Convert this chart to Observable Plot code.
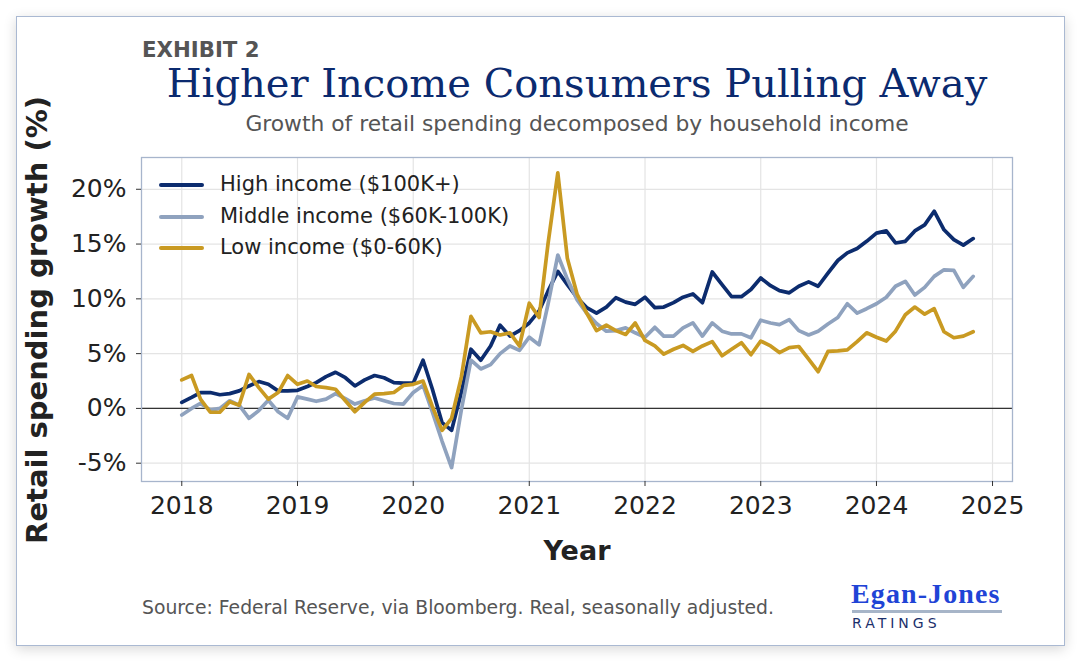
<!DOCTYPE html>
<html>
<head>
<meta charset="utf-8">
<script src="https://cdn.jsdelivr.net/npm/d3@7"></script>
<script src="https://cdn.jsdelivr.net/npm/@observablehq/plot@0.6"></script>
<style>
  html, body { margin: 0; padding: 0; background: #ffffff; }
  body { width: 1080px; height: 661px; position: relative; overflow: hidden; font-family: "DejaVu Sans", sans-serif; }
  .card { position: absolute; left: 16px; top: 16px; width: 1047px; height: 628px; border: 1px solid #aab9d2; background: #fff; box-shadow: 0 3px 12px rgba(0,0,0,0.16); }
  .abs { position: absolute; white-space: nowrap; line-height: 1; }
  #chart { position: absolute; left: 0; top: 0; }
  .legend-row { position: absolute; left: 159px; height: 0; }
  .legend-row .swatch { position: absolute; left: 0; top: -2px; width: 45px; height: 4px; border-radius: 2px; }
  .legend-row .lbl { position: absolute; left: 61px; top: -11px; font-size: 21px; color: #222; line-height: 1; white-space: nowrap; }
</style>
</head>
<body>
<div class="card"></div>
<div id="chart"></div>

<div class="abs" style="left:142px; top:39px; font-size:21.3px; font-weight:bold; color:#555;">EXHIBIT 2</div>
<div class="abs" style="left:577px; top:63px; transform:translateX(-50%); font-family:'DejaVu Serif', serif; font-size:40px; color:#0b2a6f;">Higher Income Consumers Pulling Away</div>
<div class="abs" style="left:577px; top:113px; transform:translateX(-50%); font-size:21.8px; color:#555;">Growth of retail spending decomposed by household income</div>
<div class="abs" style="left:577px; top:537px; transform:translateX(-50%); font-size:27px; font-weight:bold; color:#222;">Year</div>
<div class="abs" style="left:37px; top:320px; transform:translate(-50%,-50%) rotate(-90deg); font-size:29px; font-weight:bold; color:#222;">Retail spending growth (%)</div>
<div class="abs" style="left:142px; top:599px; font-size:18.8px; color:#555;">Source: Federal Reserve, via Bloomberg. Real, seasonally adjusted.</div>

<div class="abs" style="left:851px; top:580px; font-family:'Liberation Serif', serif; font-weight:bold; font-size:28px; letter-spacing:1.1px; color:#1f44d6;">Egan-Jones</div>
<div class="abs" style="left:852px; top:610px; width:150px; height:3px; background:#a7b5c8;"></div>
<div class="abs" style="left:852px; top:616px; font-size:14px; letter-spacing:4px; color:#1b2f6b;">RATINGS</div>

<div id="legend"></div>

<script>
// Monthly retail spending growth (%), Jan 2018 – Nov 2024
const startYear = 2018;
const highIncome = [
  0.55, 1.0, 1.45, 1.45, 1.25, 1.35, 1.6, 2.05, 2.45, 2.2, 1.6, 1.6,
  1.65, 2.0, 2.35, 2.9, 3.3, 2.8, 2.05, 2.6, 3.0, 2.8, 2.35, 2.3,
  2.3, 4.4, 1.8, -1.3, -2.0, 1.5, 5.4, 4.4, 5.7, 7.6, 6.6, 7.1,
  7.8, 8.9, 10.7, 12.5, 11.3, 10.1, 9.2, 8.7, 9.25, 10.1, 9.7, 9.5,
  10.15, 9.2, 9.25, 9.65, 10.15, 10.45, 9.65, 12.45, 11.3, 10.2, 10.2, 10.85,
  11.9, 11.2, 10.75, 10.55, 11.15, 11.55, 11.15, 12.35, 13.5, 14.2, 14.6, 15.25,
  16.0, 16.2, 15.1, 15.25, 16.2, 16.75, 18.0, 16.3, 15.4, 14.9, 15.5
];
const middleIncome = [
  -0.6, 0.0, 0.45, -0.15, 0.0, 0.7, 0.3, -0.9, -0.2, 0.75, -0.3, -0.9,
  1.05, 0.85, 0.65, 0.85, 1.35, 0.9, 0.4, 0.7, 0.95, 0.7, 0.45, 0.4,
  1.45, 2.1, -0.3, -3.0, -5.4, -0.1, 4.4, 3.6, 4.0, 5.0, 5.7, 5.3,
  6.5, 5.8, 9.5, 14.0, 11.8, 9.9, 8.7, 7.75, 7.05, 7.1, 7.35, 6.9,
  6.5, 7.4, 6.6, 6.6, 7.35, 7.8, 6.6, 7.8, 7.05, 6.8, 6.8, 6.45,
  8.05, 7.8, 7.65, 8.1, 7.1, 6.7, 7.05, 7.7, 8.3, 9.55, 8.7, 9.1,
  9.55, 10.15, 11.15, 11.6, 10.35, 11.05, 12.05, 12.65, 12.6, 11.05, 12.05
];
const lowIncome = [
  2.6, 3.0, 0.85, -0.35, -0.35, 0.6, 0.3, 3.1, 1.9, 0.85, 1.45, 3.0,
  2.2, 2.5, 2.0, 1.9, 1.75, 0.7, -0.3, 0.55, 1.3, 1.35, 1.45, 2.1,
  2.2, 2.5, 0.2, -2.0, -0.9, 2.9, 8.4, 6.9, 7.0, 6.7, 6.9, 5.7,
  9.6, 8.3, 15.0, 21.5, 13.7, 10.4, 8.7, 7.1, 7.6, 7.1, 6.75, 7.8,
  6.2, 5.7, 4.95, 5.4, 5.75, 5.2, 5.7, 6.1, 4.8, 5.4, 6.0, 4.9,
  6.15, 5.7, 5.1, 5.55, 5.65, 4.5, 3.35, 5.2, 5.25, 5.35, 6.1, 6.9,
  6.5, 6.15, 7.05, 8.55, 9.25, 8.6, 9.1, 7.0, 6.45, 6.6, 7.0
];

const seriesNames = ["High income ($100K+)", "Middle income ($60K-100K)", "Low income ($0-60K)"];
const seriesColors = ["#0c2c6e", "#8fa2be", "#c99a22"];
const yTicks = [-5, 0, 5, 10, 15, 20];
const yearTicks = [2018, 2019, 2020, 2021, 2022, 2023, 2024, 2025];

const monthDate = (i) => new Date(Date.UTC(startYear, i, 1));
const rows = [];
[highIncome, middleIncome, lowIncome].forEach((values, s) => {
  values.forEach((v, i) => rows.push({date: monthDate(i), value: v, series: seriesNames[s]}));
});
const xTickDates = yearTicks.map(y => new Date(Date.UTC(y, 0, 1)));

const chart = Plot.plot({
  width: 1080,
  height: 661,
  marginLeft: 141,
  marginRight: 68,
  marginTop: 157,
  marginBottom: 180,
  style: {background: "transparent", fontFamily: "DejaVu Sans, sans-serif", color: "#222"},
  x: {type: "utc", domain: [new Date(Date.UTC(2017, 7, 27)), new Date(Date.UTC(2025, 2, 5))]},
  y: {domain: [-6.67, 22.9]},
  color: {domain: seriesNames, range: seriesColors},
  marks: [
    Plot.gridX(xTickDates, {stroke: "#e4e4e4", strokeOpacity: 1, strokeWidth: 1.2}),
    Plot.gridY(yTicks, {stroke: "#e4e4e4", strokeOpacity: 1, strokeWidth: 1.2}),
    Plot.ruleY([0], {stroke: "#333", strokeWidth: 1.3}),
    Plot.line(rows, {x: "date", y: "value", z: "series", stroke: "series", strokeWidth: 3.7, strokeLinejoin: "round", strokeLinecap: "round"}),
    Plot.frame({stroke: "#a7b5cc", strokeWidth: 1.3}),
    Plot.axisX(xTickDates, {tickFormat: "%Y", tickSize: 5, tickPadding: 10, fontSize: 25, label: null, stroke: "#333"}),
    Plot.axisY(yTicks, {tickFormat: d => `${d}%`, tickSize: 5, tickPadding: 10, fontSize: 25, label: null, stroke: "#333"})
  ]
});
document.getElementById("chart").appendChild(chart);

// legend inside the plot area, top-left
const legend = document.getElementById("legend");
const legendY = [185, 216.5, 248];
seriesNames.forEach((name, i) => {
  const row = document.createElement("div");
  row.className = "legend-row";
  row.style.top = legendY[i] + "px";
  row.innerHTML = `<span class="swatch" style="background:${seriesColors[i]}"></span><span class="lbl">${name}</span>`;
  legend.appendChild(row);
});
</script>
</body>
</html>
